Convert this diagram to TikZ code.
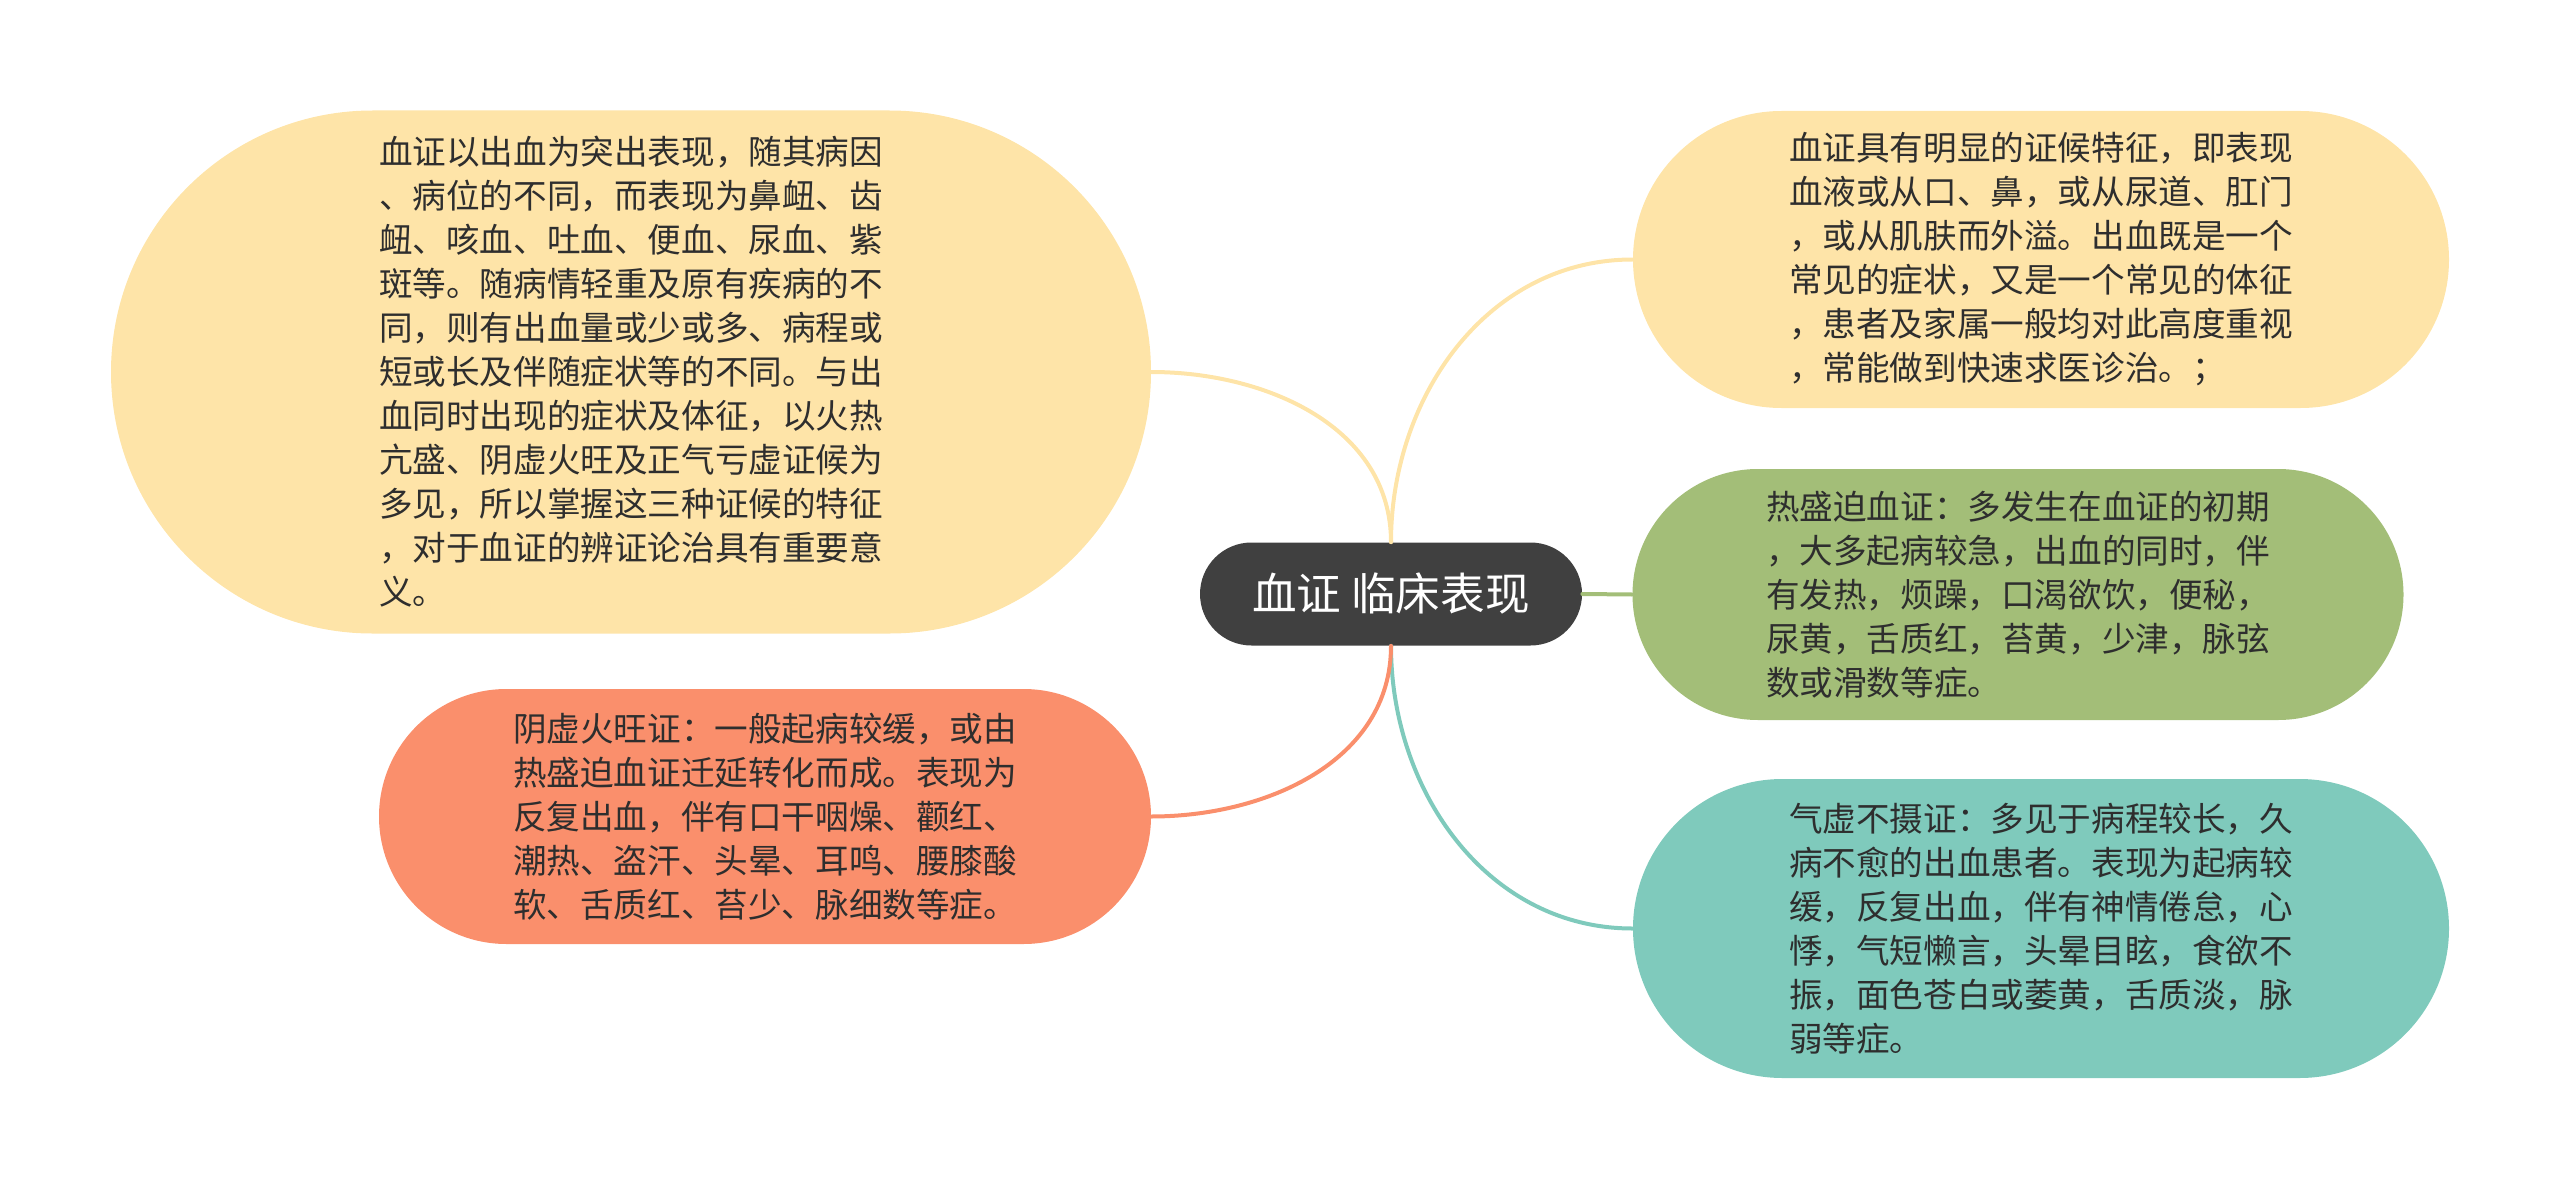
\documentclass[tikz,border=0pt]{standalone}
\usepackage{fontspec}
\newfontfamily\cjk{Noto Sans CJK SC}
\definecolor{rootgray}{HTML}{404040}
\definecolor{sandfill}{HTML}{FEE4A8}
\definecolor{sagefill}{HTML}{A3BE78}
\definecolor{coralfill}{HTML}{FA8F6C}
\definecolor{tealfill}{HTML}{7FCABC}
\definecolor{inktext}{HTML}{2E2E2E}
\tikzset{
  bubble/.style={rectangle, rounded corners=#1, inner sep=0pt, align=left,
    text=inktext, font=\cjk\fontsize{16.8pt}{22pt}\selectfont},
  link/.style={line width=2pt, line cap=round}
}
\begin{document}
\begin{tikzpicture}[x=0.5pt,y=-0.5pt]
      \useasboundingbox (0,0) rectangle (2560,1188);
      \draw
        (1391,594) node[bubble=25.75pt, fill=rootgray, text=white,
          minimum width=191pt, minimum height=51.5pt,
          font=\cjk\fontsize{22.3pt}{26pt}\selectfont, align=center] (root){血证 临床表现}
        (631,372) node[bubble=130.75pt, fill=sandfill,
          minimum width=520pt, minimum height=261.5pt] (cause){血证以出血为突出表现，随其病因\\
、病位的不同，而表现为鼻衄、齿\\
衄、咳血、吐血、便血、尿血、紫\\
斑等。随病情轻重及原有疾病的不\\
同，则有出血量或少或多、病程或\\
短或长及伴随症状等的不同。与出\\
血同时出现的症状及体征，以火热\\
亢盛、阴虚火旺及正气亏虚证候为\\
多见，所以掌握这三种证候的特征\\
，对于血证的辨证论治具有重要意\\
义。}
        (2041,259.5) node[bubble=74.25pt, fill=sandfill,
          minimum width=408pt, minimum height=148.5pt] (sign){血证具有明显的证候特征，即表现\\
血液或从口、鼻，或从尿道、肛门\\
，或从肌肤而外溢。出血既是一个\\
常见的症状，又是一个常见的体征\\
，患者及家属一般均对此高度重视\\
，常能做到快速求医诊治。；}
        (2018,594.5) node[bubble=62.75pt, fill=sagefill,
          minimum width=385.5pt, minimum height=125.5pt] (heat){热盛迫血证：多发生在血证的初期\\
，大多起病较急，出血的同时，伴\\
有发热，烦躁，口渴欲饮，便秘，\\
尿黄，舌质红，苔黄，少津，脉弦\\
数或滑数等症。}
        (2041,928.5) node[bubble=74.75pt, fill=tealfill,
          minimum width=408pt, minimum height=149.5pt] (qi){气虚不摄证：多见于病程较长，久\\
病不愈的出血患者。表现为起病较\\
缓，反复出血，伴有神情倦怠，心\\
悸，气短懒言，头晕目眩，食欲不\\
振，面色苍白或萎黄，舌质淡，脉\\
弱等症。}
        (765,816.5) node[bubble=63.75pt, fill=coralfill,
          minimum width=386pt, minimum height=127.5pt] (yin){阴虚火旺证：一般起病较缓，或由\\
热盛迫血证迁延转化而成。表现为\\
反复出血，伴有口干咽燥、颧红、\\
潮热、盗汗、头晕、耳鸣、腰膝酸\\
软、舌质红、苔少、脉细数等症。};
      \begin{scope}[link]
        \draw[sandfill] (root.north) to[out=90,in=0] (cause.east);
        \draw[sandfill] (root.north) to[out=90,in=180] (sign.west);
        \draw[sagefill] (root.east) to (heat.west);
        \draw[tealfill] (root.south) to[out=-90,in=180] (qi.west);
        \draw[coralfill] (root.south) to[out=-90,in=0] (yin.east);
      \end{scope}
    \end{tikzpicture}
\end{document}
